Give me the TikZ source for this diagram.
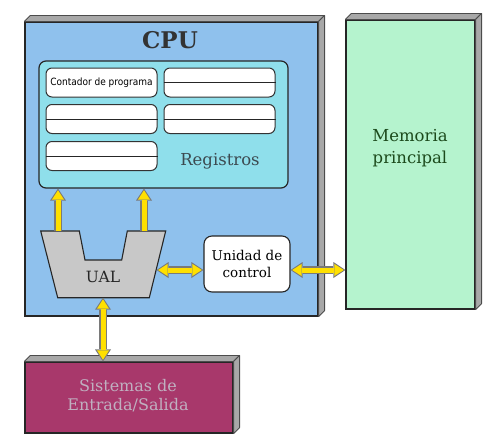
\documentclass[tikz,border=0pt]{standalone}
\usepackage{fontspec}
\setmainfont{DejaVu Serif}
\newfontfamily\condsans{DejaVu Sans Condensed}
\usetikzlibrary{arrows.meta,calc}
\definecolor{cpublue}{HTML}{8FC1ED}
\definecolor{regcyan}{HTML}{8FDFEB}
\definecolor{memgreen}{HTML}{B5F3CE}
\definecolor{iopurple}{HTML}{A8386B}
\definecolor{ualgray}{HTML}{C8C8C8}
\definecolor{facegray}{HTML}{A8A8A8}
\definecolor{arrgray}{HTML}{7A7A7A}
\definecolor{arryellow}{HTML}{FFE000}
\definecolor{memtext}{HTML}{1C4A1C}
\definecolor{iotext}{HTML}{C0B0C0}
\definecolor{regtext}{HTML}{3C4A50}
\begin{document}
\begin{tikzpicture}[x=1pt,y=-1pt,
  frontbox/.style={draw=black!85, line width=1.2pt, inner sep=0pt},
  face/.style={draw=black!70, line width=0.8pt, fill=facegray, line join=round},
  regbox/.style={draw=black!80, line width=1pt, fill=white, rounded corners=6pt,
    minimum width=111pt, minimum height=29pt, inner sep=0pt},
  aout/.style={draw=arrgray, line width=8pt, -{Triangle[width=16pt,length=12pt,line width=0pt]}},
  ain/.style={draw=arryellow, line width=5pt, shorten >=1.7pt, -{Triangle[width=12pt,length=9.3pt,line width=0pt]}},
  dout/.style={draw=arrgray, line width=8pt, {Triangle[width=16pt,length=12pt,line width=0pt]}-{Triangle[width=16pt,length=12pt,line width=0pt]}},
  din/.style={draw=arryellow, line width=5pt, shorten >=1.7pt, shorten <=1.7pt, {Triangle[width=12pt,length=9.3pt,line width=0pt]}-{Triangle[width=12pt,length=9.3pt,line width=0pt]}}
]
\useasboundingbox (0,0) rectangle (500,442);

% CPU box
\node[frontbox, fill=cpublue, minimum width=293pt, minimum height=294pt] (cpu) at (171.5,169) {};
\draw[face] (cpu.north west) -- ++(6,-6) -- ($(cpu.north east)+(6,-6)$) -- (cpu.north east) -- cycle;
\draw[face] (cpu.north east) -- ++(6,-6) -- ($(cpu.south east)+(6,-6)$) -- (cpu.south east) -- cycle;
\node[font=\bfseries\fontsize{23}{26}\selectfont, text=black!80] (cputitle) at (170,40) {CPU};

% Memory box
\node[frontbox, fill=memgreen, minimum width=129pt, minimum height=289pt] (mem) at (410.5,164.5) {};
\draw[face] (mem.north west) -- ++(6,-6) -- ($(mem.north east)+(6,-6)$) -- (mem.north east) -- cycle;
\draw[face] (mem.north east) -- ++(6,-6) -- ($(mem.south east)+(6,-6)$) -- (mem.south east) -- cycle;
\node[font=\fontsize{16.5}{21.5}\selectfont, text=memtext, align=center] (memtxt) at (410,148) {Memoria\\principal};

% I/O box
\node[frontbox, fill=iopurple, minimum width=208pt, minimum height=71pt] (io) at (129,397.5) {};
\draw[face] (io.north west) -- ++(6,-6) -- ($(io.north east)+(6,-6)$) -- (io.north east) -- cycle;
\draw[face] (io.north east) -- ++(6,-6) -- ($(io.south east)+(6,-6)$) -- (io.south east) -- cycle;
\node[font=\fontsize{16}{19}\selectfont, text=iotext, align=center] (iotxt) at (128,396) {Sistemas de\\Entrada/Salida};

% Registers
\node[draw=black!85, line width=1.2pt, fill=regcyan, rounded corners=7pt,
  minimum width=249pt, minimum height=127pt] (regs) at (163.5,124.5) {};
\node[regbox, font=\condsans\fontsize{10}{12}\selectfont] (r1) at (101.5,82.5) {Contador de programa};
\node[regbox] (r2) at (219.5,82.5) {};
\node[regbox] (r3) at (101.5,119) {};
\node[regbox] (r4) at (219.5,119) {};
\node[regbox] (r5) at (101.5,156) {};
\foreach \r in {r2,r3,r4,r5} \draw[black!85, line width=1pt] (\r.west) -- (\r.east);
\node[font=\fontsize{16.5}{20}\selectfont, text=regtext] (regtxt) at (220,161) {Registros};

% UAL
\draw[draw=black!85, line width=1.1pt, fill=ualgray]
  (40.7,231) -- (79.3,231) -- (85,260) -- (121.7,260) -- (127.3,231) -- (165.7,231)
  -- (149.3,297.7) -- (57.7,297.7) -- cycle;
\node[font=\fontsize{15.5}{18}\selectfont, text=black!85] (ual) at (103,277) {UAL};
\coordinate (ualA) at (58,231);
\coordinate (ualB) at (144,231);
\coordinate (ualR) at (156.5,270);
\coordinate (ualS) at (103,297.7);

% Unidad de control
\node[draw=black!85, line width=1.1pt, fill=white, rounded corners=8pt,
  minimum width=86pt, minimum height=56pt, align=center,
  font=\fontsize{13.5}{17}\selectfont] (uc) at (247,264) {Unidad de\\control};

% Arrows
\draw[aout] (ualA) -- (ualA |- regs.south);
\draw[ain]  (ualA) -- (ualA |- regs.south);
\draw[aout] (ualB) -- (ualB |- regs.south);
\draw[ain]  (ualB) -- (ualB |- regs.south);
\draw[dout] (ualR) -- (uc.west |- ualR);
\draw[din]  (ualR) -- (uc.west |- ualR);
\draw[dout] (uc.east |- ualR) -- (mem.west |- ualR);
\draw[din]  (uc.east |- ualR) -- (mem.west |- ualR);
\draw[dout] (ualS) -- (io.north -| ualS);
\draw[din]  (ualS) -- (io.north -| ualS);
\end{tikzpicture}
\end{document}
